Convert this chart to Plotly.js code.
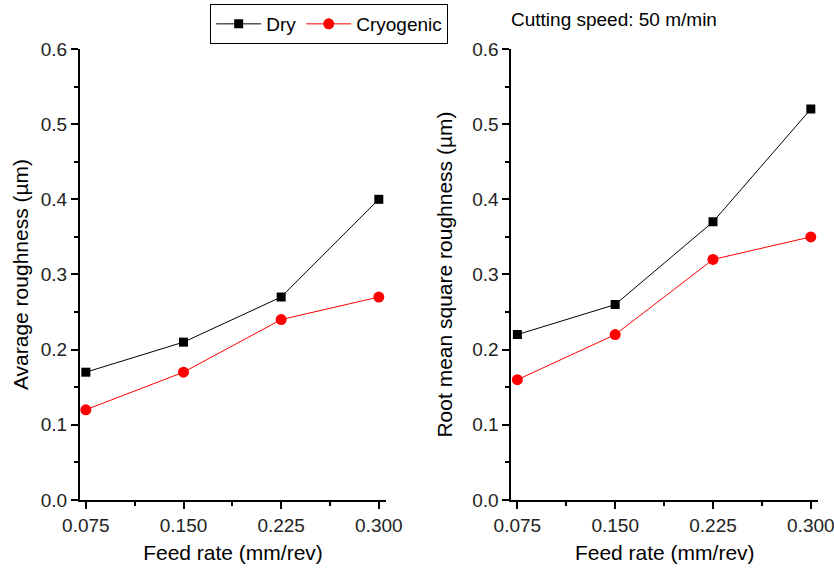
<!DOCTYPE html>
<html><head><meta charset="utf-8">
<script src="https://cdn.plot.ly/plotly-3.0.1.min.js"></script>
<style>body{margin:0;padding:0;background:#fff}#chart{width:834px;height:569px}</style>
</head><body><div id="chart"></div>
<script>
const feedRate = [0.075, 0.150, 0.225, 0.300];
const feedLabels = ['0.075', '0.150', '0.225', '0.300'];
const raDry = [0.17, 0.21, 0.27, 0.40];
const raCryo = [0.12, 0.17, 0.24, 0.27];
const rqDry = [0.22, 0.26, 0.37, 0.52];
const rqCryo = [0.16, 0.22, 0.32, 0.35];
const yTicks = [0, 0.1, 0.2, 0.3, 0.4, 0.5, 0.6];
const yLabels = ['0.0', '0.1', '0.2', '0.3', '0.4', '0.5', '0.6'];

const F = 'Liberation Sans, Arial, sans-serif';
const dryStyle = {mode: 'lines+markers', line: {color: '#000', width: 1}, marker: {symbol: 'square', size: 9, color: '#000'}};
const cryoStyle = {mode: 'lines+markers', line: {color: '#ff0000', width: 1}, marker: {symbol: 'circle', size: 11, color: '#ff0000'}};

const traces = [
  Object.assign({x: feedRate, y: raDry, name: 'Dry', xaxis: 'x', yaxis: 'y'}, dryStyle),
  Object.assign({x: feedRate, y: raCryo, name: 'Cryogenic', xaxis: 'x', yaxis: 'y'}, cryoStyle),
  Object.assign({x: feedRate, y: rqDry, name: 'Dry', xaxis: 'x2', yaxis: 'y2', showlegend: false}, dryStyle),
  Object.assign({x: feedRate, y: rqCryo, name: 'Cryogenic', xaxis: 'x2', yaxis: 'y2', showlegend: false}, cryoStyle)
];

function xAx(dom, anchor) {
  return {domain: dom, anchor: anchor, range: [0.0705, 0.3055], showgrid: false, zeroline: false,
    showline: true, linewidth: 2, linecolor: '#000', mirror: false,
    ticks: 'outside', ticklen: 7, tickwidth: 2, tickcolor: '#000',
    tickmode: 'array', tickvals: feedRate, ticktext: feedLabels, ticklabeloverflow: 'allow',
    minor: {ticks: 'outside', ticklen: 4, tickwidth: 2, tickcolor: '#000', tickmode: 'array', tickvals: [0.1125, 0.1875, 0.2625]},
    tickfont: {family: F, size: 19, color: '#222'},
    title: {text: 'Feed rate (mm/rev)', font: {family: F, size: 21, color: '#000'}, standoff: 11},
    automargin: false};
}
function yAx(anchor, title, standoff) {
  return {domain: [0.1213, 0.9139], anchor: anchor, range: [0, 0.6], showgrid: false, zeroline: false,
    showline: true, linewidth: 2, linecolor: '#000',
    ticks: 'outside', ticklen: 7, tickwidth: 2, tickcolor: '#000',
    tickmode: 'array', tickvals: yTicks, ticktext: yLabels, ticklabeloverflow: 'allow',
    minor: {ticks: 'outside', ticklen: 4, tickwidth: 2, tickcolor: '#000', tickmode: 'array', tickvals: [0.05, 0.15, 0.25, 0.35, 0.45, 0.55]},
    tickfont: {family: F, size: 19, color: '#222'},
    title: {text: title, font: {family: F, size: 21, color: '#000'}, standoff: standoff},
    automargin: false};
}

const layout = {
  width: 834, height: 569,
  margin: {l: 0, r: 0, t: 0, b: 0},
  paper_bgcolor: '#fff', plot_bgcolor: '#fff',
  font: {family: F},
  xaxis: xAx([0.0959, 0.4628], 'y'),
  yaxis: yAx('x', 'Avarage roughness (µm)', 6),
  xaxis2: xAx([0.6133, 0.9808], 'y2'),
  yaxis2: yAx('x2', 'Root mean square roughness (µm)', 14),
  showlegend: true,
  legend: {orientation: 'h', x: 0.252, xanchor: 'left', y: 1 - 4/569, yanchor: 'top',
    bordercolor: '#000', borderwidth: 1, bgcolor: '#fff',
    font: {family: F, size: 19, color: '#000'}, itemwidth: 45, tracegroupgap: 0},
  annotations: [{text: 'Cutting speed: 50 m/min', xref: 'paper', yref: 'paper', x: 509/834, y: 1 - 20/569,
    xanchor: 'left', yanchor: 'middle', showarrow: false, font: {family: F, size: 19, color: '#000'}}]
};

Plotly.newPlot('chart', traces, layout, {displayModeBar: false, staticPlot: true});
</script>
</body></html>
